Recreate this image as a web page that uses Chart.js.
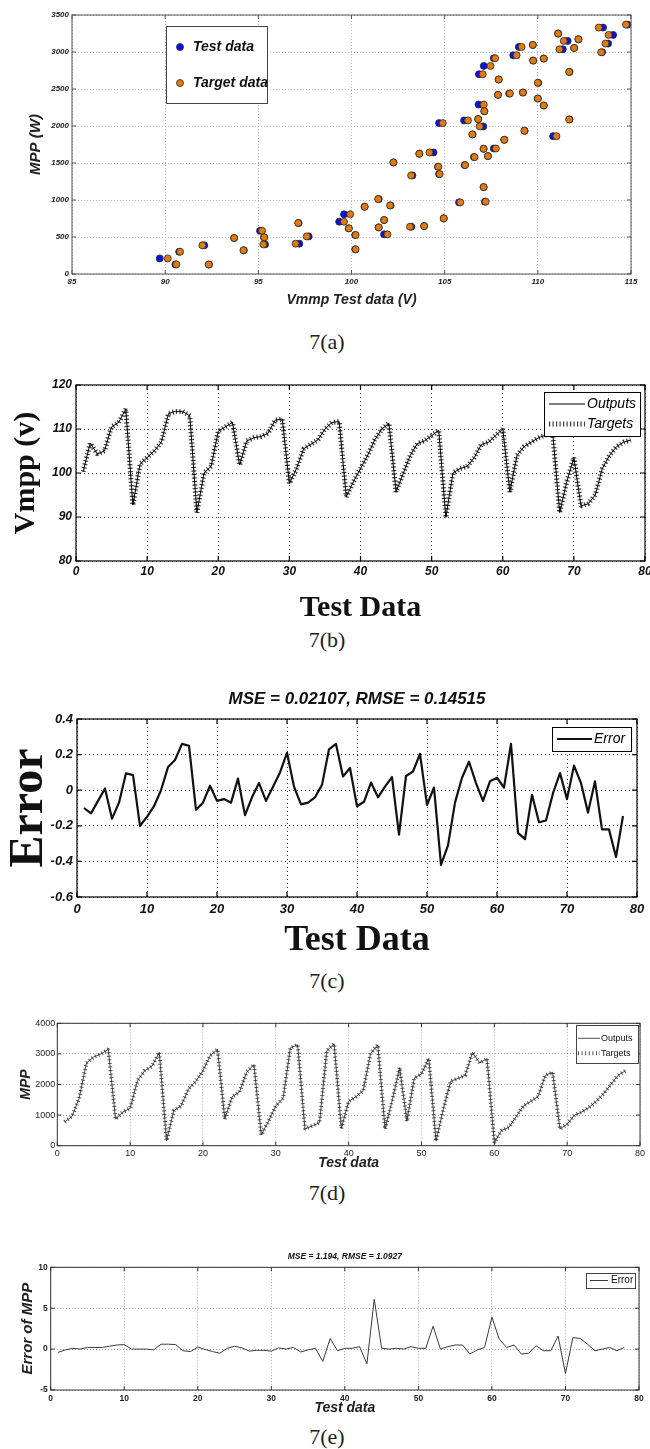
<!DOCTYPE html>
<html>
<head>
<meta charset="utf-8">
<script src="https://cdn.jsdelivr.net/npm/chart.js@4.4.1/dist/chart.umd.min.js"></script>
<style>
  html, body { margin: 0; padding: 0; background: #fff; }
  body { position: relative; width: 650px; height: 1449px; overflow: hidden; }
  canvas { position: absolute; left: 0; }
  .cap { position: absolute; left: 2px; width: 650px; text-align: center; font: 22px 'Liberation Serif', serif; color: #222; line-height: 1; }
</style>
</head>
<body>
<canvas id="figA" width="670" height="310" style="top:0px"></canvas>
<div class="cap" style="top:331px">7(a)</div>
<canvas id="figB" width="670" height="255" style="top:370px"></canvas>
<div class="cap" style="top:629px">7(b)</div>
<canvas id="figC" width="670" height="283" style="top:680px"></canvas>
<div class="cap" style="top:970px">7(c)</div>
<canvas id="figD" width="670" height="161" style="top:1010px"></canvas>
<div class="cap" style="top:1182px">7(d)</div>
<canvas id="figE" width="670" height="171" style="top:1245px"></canvas>
<div class="cap" style="top:1426px">7(e)</div>

<script>
// ---- 7(a): MPP vs Vmmp, test data and target data ----
const mppW = [211, 301, 130, 387, 128, 486, 320, 585, 495, 400, 410, 689, 508,
  707, 806, 617, 527, 333, 909, 1013, 630, 729, 536, 927, 1508, 1332, 639, 1625,
  648, 1643, 1449, 1350, 2039, 752, 968, 2075, 1472, 1886, 1580, 2093, 1994, 2290,
  2200, 2700, 2812, 1692, 1593, 1174, 977, 2916, 1696, 2628, 2421, 1813, 2439, 2956,
  3069, 2452, 1935, 3096, 2884, 2583, 2371, 2911, 2277, 1863, 3249, 3037, 3150, 2731,
  2088, 3055, 3172, 3330, 2997, 3114, 3231, 3370];
const vmmpTest = [89.71, 90.75, 90.55, 92.1, 92.35, 93.7, 94.22, 95.09, 95.3, 95.36, 97.2, 97.16, 97.7,
  99.34, 99.6, 99.85, 100.2, 100.2, 100.7, 101.46, 101.46, 101.75, 101.75, 102.1, 102.25, 103.27, 103.21, 103.64,
  103.9, 104.4, 104.64, 104.7, 104.7, 104.95, 105.77, 106.04, 106.07, 106.5, 106.57, 106.8, 107.07, 106.82,
  107.13, 106.84, 107.1, 107.09, 107.32, 107.09, 107.16, 107.64, 107.64, 107.9, 107.86, 108.2, 108.46, 108.68,
  108.98, 109.2, 109.29, 109.73, 109.75, 110.02, 110.0, 110.32, 110.32, 110.82, 111.09, 111.34, 111.6, 111.7,
  111.7, 111.95, 112.18, 113.5, 113.45, 113.77, 114.04, 114.82];
const vmmpTarget = [90.14, 90.8, 90.6, 92.0, 92.34, 93.7, 94.2, 95.2, 95.32, 95.27, 97.0, 97.14, 97.6,
  99.6, 99.93, 99.86, 100.22, 100.22, 100.71, 101.43, 101.46, 101.75, 101.93, 102.07, 102.25, 103.2, 103.14, 103.64,
  103.9, 104.18, 104.66, 104.73, 104.9, 104.95, 105.84, 106.25, 106.1, 106.48, 106.6, 106.8, 106.88, 107.1,
  107.13, 107.04, 107.46, 107.09, 107.32, 107.09, 107.2, 107.71, 107.75, 107.9, 107.86, 108.2, 108.5, 108.86,
  109.13, 109.2, 109.28, 109.73, 109.75, 110.0, 110.0, 110.32, 110.32, 111.0, 111.09, 111.16, 111.39, 111.68,
  111.68, 111.95, 112.18, 113.27, 113.4, 113.63, 113.8, 114.73];

// ---- test sample index shared by 7(b)-7(e) ----
const testIndex = [1, 2, 3, 4, 5, 6, 7, 8, 9, 10, 11, 12, 13, 14, 15, 16, 17, 18, 19, 20,
  21, 22, 23, 24, 25, 26, 27, 28, 29, 30, 31, 32, 33, 34, 35, 36, 37, 38, 39, 40,
  41, 42, 43, 44, 45, 46, 47, 48, 49, 50, 51, 52, 53, 54, 55, 56, 57, 58, 59, 60,
  61, 62, 63, 64, 65, 66, 67, 68, 69, 70, 71, 72, 73, 74, 75, 76, 77, 78];

// ---- 7(b): Vmpp outputs / targets ----
const vmppTargets = [100.3, 106.8, 104.3, 105, 110.5, 111.5, 114.5, 92.7, 102, 103.5,
  105, 107, 113.5, 114, 114, 113, 91, 100, 101.5, 109.5,
  110.5, 111.5, 101.8, 107.3, 108, 108.3, 109, 112, 112.3, 97.6,
  101, 105.5, 106.5, 107.5, 110, 111.5, 111.7, 94.6, 98, 101,
  104, 107.5, 110, 111.3, 95.7, 99.9, 104, 106.7, 107.3, 108.5,
  109.7, 89.9, 100, 101, 101.5, 103.5, 106.5, 107, 108.5, 110,
  95.7, 104, 106, 107, 108, 108.6, 109.5, 91, 98, 103.5,
  92.5, 93, 95, 101, 104, 106, 107, 107.5];
const vmppOutputs = vmppTargets;

// ---- 7(c): Vmpp error ----
const vmppError = [-0.10, -0.13, -0.06, 0.01, -0.16, -0.07, 0.095, 0.085, -0.20, -0.15,
  -0.09, 0.0, 0.13, 0.17, 0.26, 0.25, -0.11, -0.07, 0.025, -0.06,
  -0.05, -0.07, 0.065, -0.14, -0.04, 0.04, -0.06, 0.02, 0.1, 0.21,
  0.02, -0.08, -0.07, -0.04, 0.03, 0.23, 0.26, 0.077, 0.125, -0.09,
  -0.065, 0.043, -0.04, 0.02, 0.074, -0.25, 0.08, 0.105, 0.204, -0.083,
  0.015, -0.42, -0.31, -0.07, 0.07, 0.16, 0.04, -0.06, 0.05, 0.07,
  0.015, 0.26, -0.24, -0.275, -0.026, -0.18, -0.17, -0.017, 0.096, -0.05,
  0.138, 0.04, -0.126, 0.05, -0.22, -0.22, -0.375, -0.145];

// ---- 7(d): MPP outputs / targets ----
const mppTargets = [780, 950, 1550, 2700, 2900, 3000, 3150, 870, 1100, 1220,
  2120, 2450, 2600, 3050, 160, 1150, 1300, 1850, 2100, 2450,
  2950, 3150, 870, 1600, 1750, 2400, 2650, 350, 800, 1300,
  1550, 3200, 3300, 550, 650, 750, 3100, 3330, 570, 1450,
  1600, 1800, 3000, 3300, 550, 1500, 2550, 800, 2200, 2350,
  2850, 150, 1200, 2100, 2200, 2300, 3050, 2700, 2850, 100,
  500, 600, 950, 1300, 1450, 1600, 2300, 2400, 550, 700,
  1000, 1100, 1250, 1450, 1700, 2000, 2300, 2450];
const mppOutputs = mppTargets;

// ---- 7(e): MPP error ----
const mppError = [-0.4, -0.1, 0.1, 0.0, 0.2, 0.2, 0.2, 0.35, 0.5, 0.55,
  0.0, 0.0, 0.0, -0.1, 0.6, 0.6, 0.55, -0.2, -0.3, 0.25,
  -0.05, -0.3, -0.5, 0.1, 0.35, 0.15, -0.25, -0.15, -0.15, -0.25,
  0.15, 0.0, 0.2, -0.35, -0.1, 0.1, -1.5, 1.3, -0.2, 0.1,
  0.1, 0.3, -1.8, 6.1, 0.1, 0.0, 0.1, 0.0, 0.3, 0.1,
  0.1, 2.8, 0.0, 0.3, 0.5, 0.5, -0.6, -0.1, 0.2, 3.9,
  1.2, 0.2, 0.5, -0.6, -0.5, 0.4, -0.2, -0.2, 1.6, -3.0,
  1.4, 1.3, 0.6, -0.2, 0.0, 0.2, -0.2, 0.2];

const SANS = "'Liberation Sans', Arial, sans-serif";
const SERIF = "'Liberation Serif', 'Times New Roman', serif";

const toPoints = (xs, ys) => xs.map((x, i) => ({ x: x, y: ys[i] }));

// box around the plot with matlab-like inner ticks
const framePlugin = {
  id: 'frame',
  afterDatasetsDraw(chart, args, o) {
    const { ctx, chartArea: a, scales } = chart;
    ctx.save();
    ctx.strokeStyle = o.color;
    ctx.lineWidth = o.width;
    ctx.strokeRect(a.left, a.top, a.right - a.left, a.bottom - a.top);
    ctx.beginPath();
    scales.x.ticks.forEach(t => {
      const px = scales.x.getPixelForValue(t.value);
      ctx.moveTo(px, a.bottom); ctx.lineTo(px, a.bottom - o.tick);
      ctx.moveTo(px, a.top); ctx.lineTo(px, a.top + o.tick);
    });
    scales.y.ticks.forEach(t => {
      const py = scales.y.getPixelForValue(t.value);
      ctx.moveTo(a.left, py); ctx.lineTo(a.left + o.tick, py);
      ctx.moveTo(a.right, py); ctx.lineTo(a.right - o.tick, py);
    });
    ctx.stroke();
    ctx.restore();
  }
};

// legend box drawn inside the plot, like the matlab ones
const boxLegend = {
  id: 'boxLegend',
  afterDraw(chart, args, o) {
    const ctx = chart.ctx;
    const [l, t, w, h] = o.box;
    ctx.save();
    ctx.fillStyle = '#fff';
    ctx.fillRect(l, t, w, h);
    ctx.strokeStyle = o.borderColor;
    ctx.lineWidth = 1;
    ctx.strokeRect(l + 0.5, t + 0.5, w, h);
    chart.data.datasets.forEach((ds, i) => {
      const y = o.rows[i];
      ctx.save();
      if (ds.showLine === false) {
        ctx.beginPath();
        ctx.arc(o.sampleX, y, ds.pointRadius, 0, Math.PI * 2);
        ctx.fillStyle = ds.backgroundColor;
        ctx.fill();
        ctx.lineWidth = ds.borderWidth;
        ctx.strokeStyle = ds.borderColor;
        ctx.stroke();
      } else {
        ctx.beginPath();
        ctx.setLineDash(ds.borderDash || []);
        ctx.lineWidth = ds.borderWidth;
        ctx.strokeStyle = ds.borderColor;
        ctx.moveTo(o.sampleX, y);
        ctx.lineTo(o.sampleX + o.sampleW, y);
        ctx.stroke();
      }
      ctx.restore();
      ctx.font = o.font;
      ctx.fillStyle = o.color;
      ctx.textBaseline = 'middle';
      ctx.fillText(ds.label, o.textX, y);
    });
    ctx.restore();
  }
};

function axis(o) {
  return {
    type: 'linear',
    min: o.min,
    max: o.max,
    afterFit: o.fit,
    ticks: {
      stepSize: o.step,
      autoSkip: false,
      maxRotation: 0,
      padding: o.tickPad,
      color: o.color,
      font: o.tickFont,
      callback: v => String(Number(v.toFixed(3)))
    },
    grid: { color: o.gridColor, lineWidth: 1, drawTicks: false },
    border: { display: false, dash: o.dash },
    title: { display: true, text: o.title, color: o.color, font: o.titleFont, padding: o.titlePad }
  };
}

function baseOptions(extra) {
  return Object.assign({
    responsive: false,
    animation: false,
    events: []
  }, extra);
}

// 7(a)
new Chart(document.getElementById('figA'), {
  type: 'scatter',
  data: {
    datasets: [
      { label: 'Test data', data: toPoints(vmmpTest, mppW), showLine: false,
        backgroundColor: '#0b10e6', borderColor: '#2a2a2a', borderWidth: 0.8, pointRadius: 3.5, order: 1 },
      { label: 'Target data', data: toPoints(vmmpTarget, mppW), showLine: false,
        backgroundColor: '#e07b0c', borderColor: '#2a2a2a', borderWidth: 0.8, pointRadius: 3.5, order: 0 }
    ]
  },
  options: baseOptions({
    layout: { padding: { left: 28.5, top: 15, right: 39, bottom: 0 } },
    scales: {
      x: axis({ min: 85, max: 115, step: 5, fit: s => { s.height = 36; }, tickPad: 4, color: '#222',
        tickFont: { family: SANS, size: 8, style: 'italic', weight: 'bold', lineHeight: 1 },
        gridColor: '#b8b8b8', dash: [1, 2], title: 'Vmmp Test data (V)',
        titleFont: { family: SANS, size: 14, style: 'italic', weight: 'bold', lineHeight: 1 },
        titlePad: { top: 0, bottom: 3 } }),
      y: axis({ min: 0, max: 3500, step: 500, fit: s => { s.width = 43.5; }, tickPad: 3, color: '#222',
        tickFont: { family: SANS, size: 8, style: 'italic', weight: 'bold', lineHeight: 1 },
        gridColor: '#b8b8b8', dash: [1, 2], title: 'MPP (W)',
        titleFont: { family: SANS, size: 15, style: 'italic', weight: 'bold', lineHeight: 1 },
        titlePad: { top: 0, bottom: 0 } })
    },
    plugins: {
      legend: { display: false },
      tooltip: { enabled: false },
      frame: { color: '#555', width: 1, tick: 4 },
      boxLegend: { box: [166, 26, 101, 77], rows: [47, 83], sampleX: 180, textX: 193,
        font: "italic bold 14px " + SANS, color: '#111', borderColor: '#444' }
    }
  }),
  plugins: [framePlugin, boxLegend]
});

// 7(b)
new Chart(document.getElementById('figB'), {
  type: 'line',
  data: {
    datasets: [
      { label: 'Outputs', data: toPoints(testIndex, vmppOutputs), borderColor: '#000', borderWidth: 1,
        pointRadius: 0, tension: 0 },
      { label: 'Targets', data: toPoints(testIndex, vmppTargets), borderColor: '#3c3c3c', borderWidth: 5,
        borderDash: [1.2, 2.3], borderJoinStyle: 'bevel', pointRadius: 0, tension: 0 }
    ]
  },
  options: baseOptions({
    layout: { padding: { left: 11.5, top: 15, right: 25, bottom: 0 } },
    scales: {
      x: axis({ min: 0, max: 80, step: 10, fit: s => { s.height = 64; }, tickPad: 5, color: '#111',
        tickFont: { family: SANS, size: 12, style: 'italic', weight: 'bold', lineHeight: 1 },
        gridColor: '#444', dash: [1, 3], title: 'Test Data',
        titleFont: { family: SERIF, size: 30, weight: 'bold', lineHeight: 1 },
        titlePad: { top: 0, bottom: 2 } }),
      y: axis({ min: 80, max: 120, step: 10, fit: s => { s.width = 64.5; }, tickPad: 4, color: '#111',
        tickFont: { family: SANS, size: 12, style: 'italic', weight: 'bold', lineHeight: 1 },
        gridColor: '#444', dash: [1, 3], title: 'Vmpp (v)',
        titleFont: { family: SERIF, size: 30, weight: 'bold', lineHeight: 1 },
        titlePad: { top: 0, bottom: 0 } })
    },
    plugins: {
      legend: { display: false },
      tooltip: { enabled: false },
      frame: { color: '#000', width: 1.2, tick: 5 },
      boxLegend: { box: [544, 22, 96, 44], rows: [34, 54], sampleX: 549, sampleW: 36, textX: 587,
        font: "italic 14px " + SANS, color: '#000', borderColor: '#000' }
    }
  }),
  plugins: [framePlugin, boxLegend]
});

// 7(c)
new Chart(document.getElementById('figC'), {
  type: 'line',
  data: {
    datasets: [
      { label: 'Error', data: toPoints(testIndex, vmppError), borderColor: '#111', borderWidth: 2.2,
        borderJoinStyle: 'round', pointRadius: 0, tension: 0 }
    ]
  },
  options: baseOptions({
    layout: { padding: { left: 5.5, top: 0, right: 33, bottom: 0 } },
    scales: {
      x: axis({ min: 0, max: 80, step: 10, fit: s => { s.height = 66; }, tickPad: 5.5, color: '#111',
        tickFont: { family: SANS, size: 13, style: 'italic', weight: 'bold', lineHeight: 1 },
        gridColor: '#444', dash: [1, 3], title: 'Test Data',
        titleFont: { family: SERIF, size: 36, weight: 'bold', lineHeight: 1 },
        titlePad: { top: 0, bottom: 4 } }),
      y: axis({ min: -0.6, max: 0.4, step: 0.2, fit: s => { s.width = 71.5; }, tickPad: 4, color: '#111',
        tickFont: { family: SANS, size: 13, style: 'italic', weight: 'bold', lineHeight: 1 },
        gridColor: '#444', dash: [1, 3], title: 'Error',
        titleFont: { family: SERIF, size: 48, weight: 'bold', lineHeight: 1 },
        titlePad: { top: 0, bottom: 0 } })
    },
    plugins: {
      legend: { display: false },
      tooltip: { enabled: false },
      title: { display: true, text: 'MSE = 0.02107, RMSE = 0.14515', fullSize: false, color: '#111',
        font: { family: SANS, size: 17, style: 'italic', weight: 'bold', lineHeight: 1 },
        padding: { top: 10.5, bottom: 11.5 } },
      frame: { color: '#000', width: 1.2, tick: 5 },
      boxLegend: { box: [552, 47, 79, 24], rows: [59], sampleX: 557, sampleW: 35, textX: 594,
        font: "italic 14px " + SANS, color: '#000', borderColor: '#000' }
    }
  }),
  plugins: [framePlugin, boxLegend]
});

// 7(d)
new Chart(document.getElementById('figD'), {
  type: 'line',
  data: {
    datasets: [
      { label: 'Outputs', data: toPoints(testIndex, mppOutputs), borderColor: '#222', borderWidth: 0.8,
        pointRadius: 0, tension: 0 },
      { label: 'Targets', data: toPoints(testIndex, mppTargets), borderColor: '#555', borderWidth: 4,
        borderDash: [1, 2.6], borderJoinStyle: 'bevel', pointRadius: 0, tension: 0 }
    ]
  },
  options: baseOptions({
    layout: { padding: { left: 19, top: 13.3, right: 30, bottom: 0 } },
    scales: {
      x: axis({ min: 0, max: 80, step: 10, fit: s => { s.height = 25.3; }, tickPad: 3, color: '#222',
        tickFont: { family: SANS, size: 9, lineHeight: 1 },
        gridColor: '#aaa', dash: [1, 2], title: 'Test data',
        titleFont: { family: SANS, size: 14, style: 'italic', weight: 'bold', lineHeight: 1 },
        titlePad: { top: 0, bottom: 1 } }),
      y: axis({ min: 0, max: 4000, step: 1000, fit: s => { s.width = 38.3; }, tickPad: 2, color: '#222',
        tickFont: { family: SANS, size: 9, lineHeight: 1 },
        gridColor: '#aaa', dash: [1, 2], title: 'MPP',
        titleFont: { family: SANS, size: 14, style: 'italic', weight: 'bold', lineHeight: 1 },
        titlePad: { top: 0, bottom: 0 } })
    },
    plugins: {
      legend: { display: false },
      tooltip: { enabled: false },
      frame: { color: '#333', width: 1, tick: 4 },
      boxLegend: { box: [576, 15, 62, 38], rows: [28.3, 43.3], sampleX: 578, sampleW: 22, textX: 601,
        font: "9px " + SANS, color: '#111', borderColor: '#444' }
    }
  }),
  plugins: [framePlugin, boxLegend]
});

// 7(e)
new Chart(document.getElementById('figE'), {
  type: 'line',
  data: {
    datasets: [
      { label: 'Error', data: toPoints(testIndex, mppError), borderColor: '#3a3a3a', borderWidth: 1,
        pointRadius: 0, tension: 0 }
    ]
  },
  options: baseOptions({
    layout: { padding: { left: 20, top: 0, right: 31, bottom: 0 } },
    scales: {
      x: axis({ min: 0, max: 80, step: 10, fit: s => { s.height = 26; }, tickPad: 4, color: '#222',
        tickFont: { family: SANS, size: 8.5, weight: 'bold', lineHeight: 1 },
        gridColor: '#aaa', dash: [1, 2], title: 'Test data',
        titleFont: { family: SANS, size: 14, style: 'italic', weight: 'bold', lineHeight: 1 },
        titlePad: { top: 0, bottom: 1 } }),
      y: axis({ min: -5, max: 10, step: 5, fit: s => { s.width = 30.7; }, tickPad: 3, color: '#222',
        tickFont: { family: SANS, size: 8.5, weight: 'bold', lineHeight: 1 },
        gridColor: '#aaa', dash: [1, 2], title: 'Error of MPP',
        titleFont: { family: SANS, size: 15, style: 'italic', weight: 'bold', lineHeight: 1 },
        titlePad: { top: 0, bottom: 0 } })
    },
    plugins: {
      legend: { display: false },
      tooltip: { enabled: false },
      title: { display: true, text: 'MSE = 1.194, RMSE = 1.0927', fullSize: false, color: '#111',
        font: { family: SANS, size: 8.5, style: 'italic', weight: 'bold', lineHeight: 1 },
        padding: { top: 7.75, bottom: 6.05 } },
      frame: { color: '#333', width: 1, tick: 4 },
      boxLegend: { box: [586, 28, 49, 15], rows: [35.5], sampleX: 590, sampleW: 18, textX: 611,
        font: "10px " + SANS, color: '#111', borderColor: '#444' }
    }
  }),
  plugins: [framePlugin, boxLegend]
});
</script>
</body>
</html>
